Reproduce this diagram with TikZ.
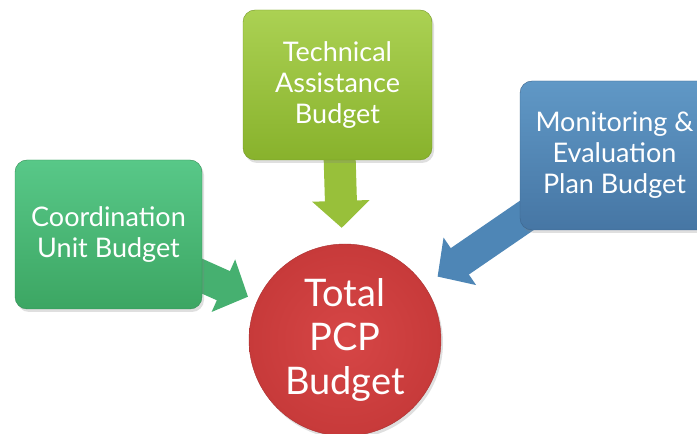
\documentclass[tikz,border=0pt]{standalone}
\usepackage{fontspec}
\setmainfont{Lato}
\usetikzlibrary{shadows,arrows.meta,backgrounds}

\definecolor{cutop}{HTML}{58C888}
\definecolor{cubot}{HTML}{3CA663}
\definecolor{tatop}{HTML}{ABD153}
\definecolor{tabot}{HTML}{88B22C}
\definecolor{metop}{HTML}{6098C6}
\definecolor{mebot}{HTML}{4676A4}
\definecolor{totin}{HTML}{D64646}
\definecolor{totout}{HTML}{C73A3A}
\definecolor{cuarrow}{HTML}{46B070}
\definecolor{taarrow}{HTML}{98C03A}
\definecolor{mearrow}{HTML}{4E86B6}

\begin{document}
\begin{tikzpicture}[x=1pt,y=1pt,
	box/.style={rounded corners=12pt, minimum width=189pt, minimum height=150pt,
		text=white, align=center, font=\fontsize{27}{31}\selectfont,
		drop shadow={opacity=0.25, shadow xshift=2pt, shadow yshift=-3pt}},
	block/.style={line width=32pt, -{Triangle[length=27pt,width=56pt]}}]

	\useasboundingbox (0,0) rectangle (697,434);
	\clip (0,0) rectangle (697,434);

	% the three budget parts
	\node[box, top color=cutop, bottom color=cubot, draw=cubot!85!black, minimum width=187pt, minimum height=149pt]
		(ca) at (108.5,199.5) {Coordination\\Unit Budget};
	\node[box, top color=tatop, bottom color=tabot, draw=tabot!85!black]
		(ta) at (337.5,349) {Technical\\Assistance\\Budget};
	\node[box, top color=metop, bottom color=mebot, draw=mebot!85!black, minimum height=149pt]
		(me) at (614.5,278.5) {Monitoring \&\\Evaluation\\Plan Budget};

	% the total
	\node[circle, minimum size=192pt, inner sep=0pt, shading=radial, inner color=totin, outer color=totout,
		draw=totout!85!black, text=white, align=center, font=\fontsize{38}{44}\selectfont,
		drop shadow={opacity=0.25, shadow xshift=2pt, shadow yshift=-3pt}]
		(tot) at (345,94) {Total\\PCP\\Budget};

	% block arrows into the total
	\begin{scope}[on background layer]
		\foreach \src/\col/\gap in {ca/cuarrow/10pt, ta/taarrow/16pt, me/mearrow/16pt}
		{
			\draw[block, \col, shorten <=-20pt, shorten >=\gap] (\src) -- (tot);
		}
	\end{scope}

\end{tikzpicture}
\end{document}
